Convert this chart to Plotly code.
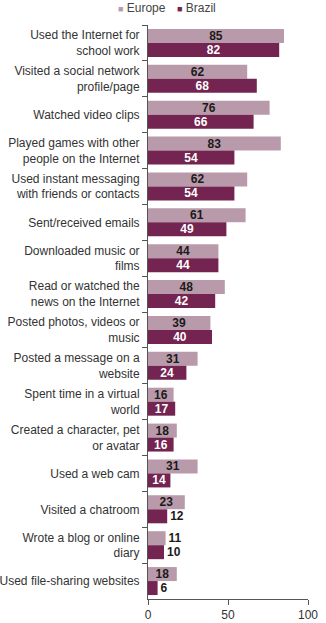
import plotly.graph_objects as go

categories = [
    "Used the Internet for<br>school work",
    "Visited a social network<br>profile/page",
    "Watched video clips",
    "Played games with other<br>people on the Internet",
    "Used instant messaging<br>with friends or contacts",
    "Sent/received emails",
    "Downloaded music or<br>films",
    "Read or watched the<br>news on the Internet",
    "Posted photos, videos or<br>music",
    "Posted a message on a<br>website",
    "Spent time in a virtual<br>world",
    "Created a character, pet<br>or avatar",
    "Used a web cam",
    "Visited a chatroom",
    "Wrote a blog or online<br>diary",
    "Used file-sharing websites",
]
europe = [85, 62, 76, 83, 62, 61, 44, 48, 39, 31, 16, 18, 31, 23, 11, 18]
brazil = [82, 68, 66, 54, 54, 49, 44, 42, 40, 24, 17, 16, 14, 12, 10, 6]
series_names = ["Europe", "Brazil"]
series_colors = ["#b99aaa", "#732450"]

def positions(vals):
    return ["inside" if v >= 14 else "outside" for v in vals]

W, H = 326, 623
ML, MR, MT, MB = 148, 18, 25, 24
plot_w = W - ML - MR
plot_h = H - MT - MB

fig = go.Figure()
for name, vals, col, intxt in [("Europe", europe, series_colors[0], "#1a1a1a"),
                                ("Brazil", brazil, series_colors[1], "#ffffff")]:
    fig.add_trace(go.Bar(
        name=name, y=categories, x=vals, orientation="h",
        marker=dict(color=col, line=dict(width=0)),
        text=vals, textposition=positions(vals), insidetextanchor="middle",
        textangle=0,
        insidetextfont=dict(color=intxt, size=12, family="Liberation Sans"),
        outsidetextfont=dict(color="#1a1a1a", size=12, family="Liberation Sans"),
        texttemplate="<b>%{text}</b>", cliponaxis=False, showlegend=False,
    ))

# legend drawn as annotations (small squares + labels)
leg_x_px = [116, 175]
for name, col, xp in zip(series_names, series_colors, leg_x_px):
    fig.add_annotation(
        xref="paper", yref="paper",
        x=(xp - ML) / plot_w, y=(H - MB - 8) / plot_h,
        xanchor="left", yanchor="middle", showarrow=False,
        text=f"<span style='color:{col};font-size:9px'>■</span> {name}",
        font=dict(size=12, color="#444444", family="Liberation Sans"),
    )

fig.update_layout(
    width=W, height=H,
    margin=dict(l=ML, r=MR, t=MT, b=MB, autoexpand=False),
    barmode="group", bargap=0.22, bargroupgap=0,
    paper_bgcolor="white", plot_bgcolor="white",
    font=dict(family="Liberation Sans", size=12, color="#333333"),
    uniformtext=dict(minsize=8, mode="show"),
    showlegend=False,
    xaxis=dict(range=[0, 100], tickvals=[0, 50, 100], showgrid=False, zeroline=False,
               showline=True, linecolor="#555555", linewidth=1,
               ticks="outside", ticklen=5, tickcolor="#555555",
               tickfont=dict(size=12, color="#333333"), automargin=False),
    yaxis=dict(autorange="reversed", showgrid=False, showline=True,
               linecolor="#555555", linewidth=1, ticks="outside", ticklen=5,
               tickcolor="#555555", tickson="boundaries", automargin=False,
               ticklabelstandoff=5,
               tickfont=dict(size=12, color="#333333")),
)

fig.write_html("out.html")
